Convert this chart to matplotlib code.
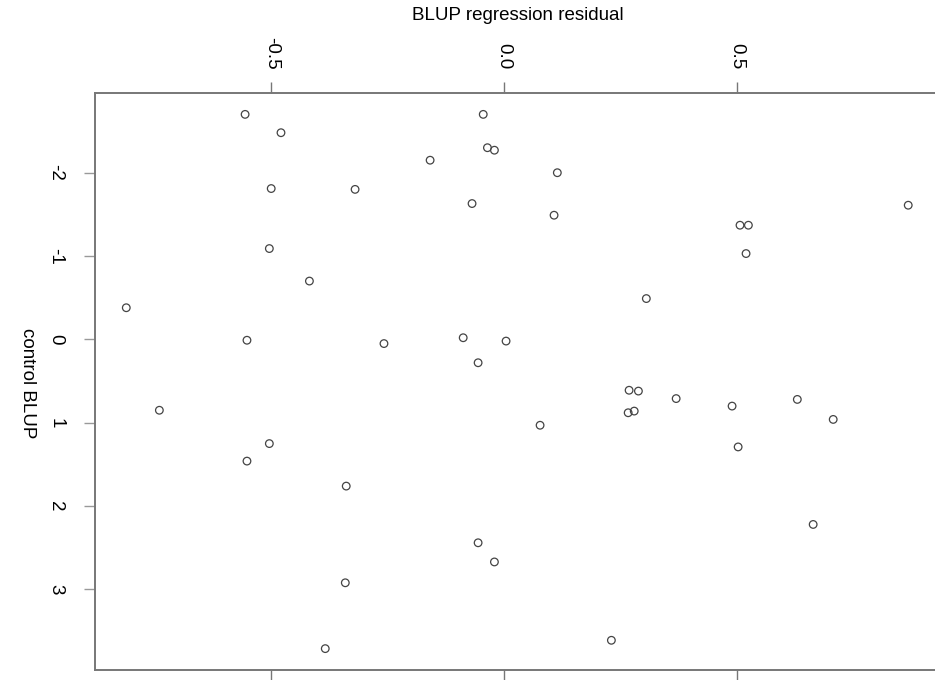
import numpy as np
import matplotlib
matplotlib.use('Agg')
import matplotlib.pyplot as plt

plt.rcParams['font.family'] = ['Liberation Sans', 'DejaVu Sans']

# BLUP regression residual (horizontal) vs control BLUP (vertical, increasing downward)
residual = [-0.556, -0.479, -0.045, -0.036, -0.021, -0.159, 0.114, -0.500, -0.320, -0.069,
            0.867, 0.107, 0.506, 0.524, -0.504, 0.519, -0.418, -0.811, 0.305, -0.552,
            -0.088, 0.004, -0.258, -0.056, 0.268, 0.288, 0.369, 0.489, 0.629, -0.740,
            0.266, 0.279, 0.706, 0.077, -0.504, 0.502, -0.552, -0.339, 0.663, -0.056,
            -0.021, -0.341, 0.230, -0.384]
control = [-2.70, -2.48, -2.70, -2.30, -2.27, -2.15, -2.00, -1.81, -1.80, -1.63,
           -1.61, -1.49, -1.37, -1.37, -1.09, -1.03, -0.70, -0.38, -0.49, 0.01,
           -0.02, 0.02, 0.05, 0.28, 0.61, 0.62, 0.71, 0.80, 0.72, 0.85,
           0.88, 0.86, 0.96, 1.03, 1.25, 1.29, 1.46, 1.76, 2.22, 2.44,
           2.67, 2.92, 3.61, 3.71]

xticks = [-0.5, 0.0, 0.5]
xtick_labels = ['-0.5', '0.0', '0.5']
yticks = [-2, -1, 0, 1, 2, 3]
ytick_labels = ['-2', '-1', '0', '1', '2', '3']

W, H = 935, 680
fig = plt.figure(figsize=(W / 100, H / 100), dpi=100)

# R style: axis range padded 4% past the data
x = np.array(residual)
y = np.array(control)
xpad = 0.04 * (x.max() - x.min())
ypad = 0.04 * (y.max() - y.min())
xlim = (x.min() - xpad, x.max() + xpad)
ylim = (y.max() + ypad, y.min() - ypad)

px_per_x = 466.0
ax_w = (xlim[1] - xlim[0]) * px_per_x
ax = fig.add_axes([95 / W, 10 / H, ax_w / W, 577 / H])

ax.scatter(x, y, s=30, facecolors='none', edgecolors='#444444', linewidths=0.9)
ax.set_xlim(*xlim)
ax.set_ylim(*ylim)

for sp in ax.spines.values():
    sp.set_color('#777777')
    sp.set_linewidth(1.4)

ax.set_xticks(xticks)
ax.set_xticklabels(xtick_labels, rotation=270)
ax.set_yticks(yticks)
ax.set_yticklabels(ytick_labels, rotation=270, va='center')
ax.tick_params(axis='x', top=True, labeltop=True, bottom=True, labelbottom=False,
               length=8, width=1.0, color='#777777', labelsize=13.5, pad=9)
ax.tick_params(axis='y', left=True, labelleft=True, right=False,
               length=8, width=1.0, color='#999999', labelsize=13.5, pad=14)

fig.text(518 / W, 1 - 15 / H, 'BLUP regression residual', ha='center', va='center', fontsize=13.5)
fig.text(27 / W, 1 - 383 / H, 'control BLUP', ha='center', va='center', rotation=270, fontsize=13.5)

fig.savefig('out.png', dpi=100)
